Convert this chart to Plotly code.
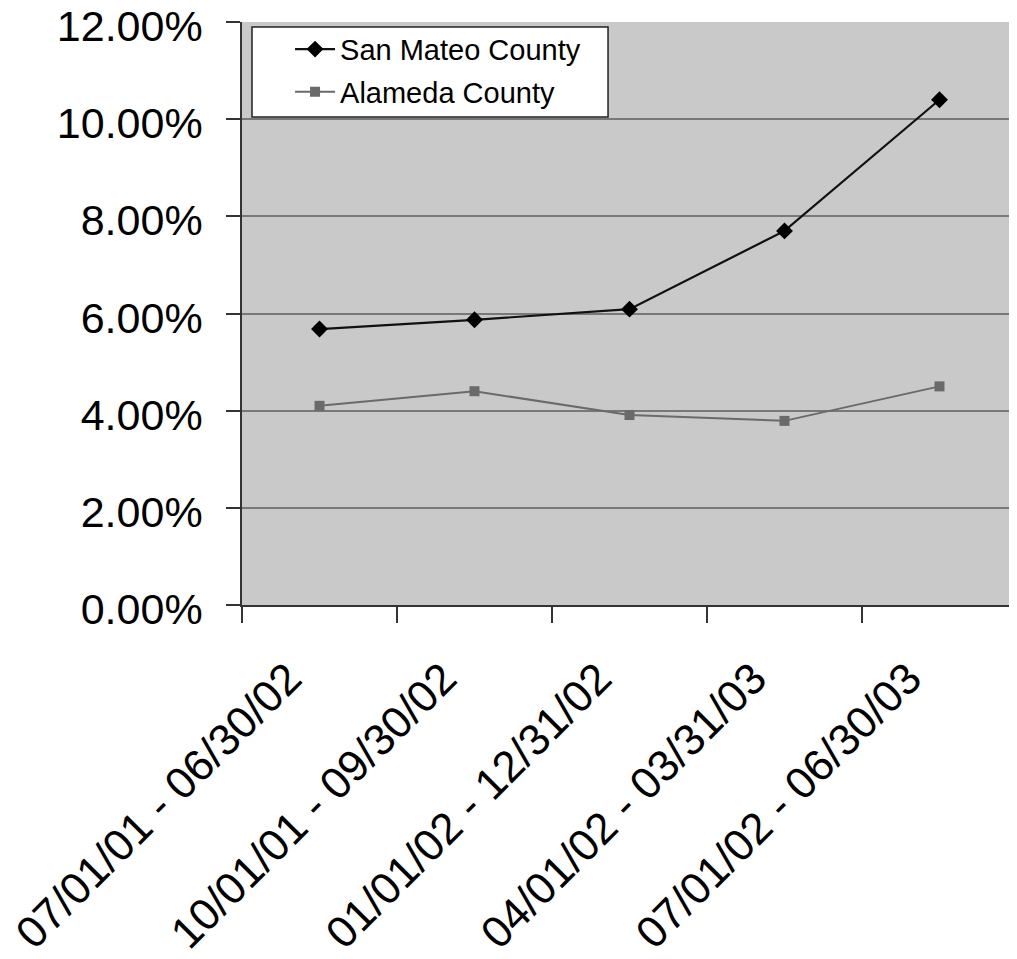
import plotly.graph_objects as go

periods = ["07/01/01 - 06/30/02", "10/01/01 - 09/30/02", "01/01/02 - 12/31/02",
           "04/01/02 - 03/31/03", "07/01/02 - 06/30/03"]
san_mateo = [5.68, 5.87, 6.09, 7.70, 10.40]
alameda = [4.10, 4.40, 3.91, 3.79, 4.50]

FONT = "Arial, Liberation Sans, Helvetica, sans-serif"

fig = go.Figure()
fig.add_trace(go.Scatter(
    x=periods, y=san_mateo, name="San Mateo County", mode="lines+markers",
    legendgroup="a",
    line=dict(color="#111111", width=2.2),
    marker=dict(symbol="diamond", size=13, color="#000000"),
))
fig.add_trace(go.Scatter(
    x=periods, y=alameda, name="Alameda County", mode="lines+markers",
    legendgroup="b",
    line=dict(color="#6a6a6a", width=2),
    marker=dict(symbol="square", size=10, color="#6a6a6a"),
))

# legend frame (paper coords)
fig.add_shape(type="rect", xref="paper", yref="paper",
              x0=0.0129, x1=0.4723, y0=0.837, y1=0.9914,
              fillcolor="white", line=dict(color="#222222", width=1.5), layer="above")

fig.update_layout(
    width=1017, height=959,
    margin=dict(l=234, r=8, t=14, b=362, autoexpand=False),
    paper_bgcolor="white", plot_bgcolor="#c9c9c9",
    font=dict(family=FONT, color="black"),
    showlegend=True,
    legend=dict(
        x=0.062, y=0.997, xanchor="left", yanchor="top",
        bgcolor="rgba(0,0,0,0)", borderwidth=0,
        font=dict(size=29, family=FONT, color="black"),
        itemwidth=40, tracegroupgap=2,
    ),
)
fig.update_xaxes(
    type="category", range=[-0.5, 4.5], automargin=False,
    showline=True, linecolor="#333333", linewidth=1.5,
    ticks="outside", tickson="boundaries", ticklen=16, tickcolor="#333333", tickwidth=1.5,
    tickangle=-45, tickfont=dict(size=44, family=FONT, color="black"),
    ticklabelshift=-31, ticklabelstandoff=28,
    showgrid=False,
)
fig.update_yaxes(
    range=[0, 12], dtick=2, tickformat=".2f", ticksuffix="%", automargin=False,
    showline=True, linecolor="#333333", linewidth=1.5,
    ticks="outside", ticklen=14, tickcolor="#333333", tickwidth=1.5,
    ticklabelstandoff=15, ticklabeloverflow="allow", ticklabelshift=4,
    tickfont=dict(size=43, family=FONT, color="black"),
    showgrid=True, gridcolor="#787878", gridwidth=1.5,
    zeroline=False,
)

fig.write_html("out.html")
